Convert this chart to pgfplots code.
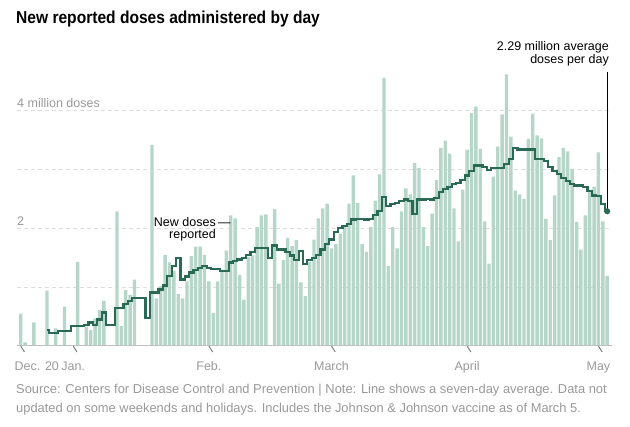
\documentclass[border=0pt]{standalone}
\usepackage{pgfplots}
\usepackage{pgfplotstable}
\pgfplotsset{compat=1.18}
\usepackage{fontspec}
\setmainfont{Liberation Sans}
\newfontfamily\titlefont[FakeStretch=0.9]{Liberation Sans}
\definecolor{barc}{HTML}{B5D6C8}
\definecolor{avgc}{HTML}{2A6A55}
\definecolor{labc}{HTML}{999999}
\definecolor{gridc}{HTML}{DDDDDD}

\pgfplotstableread{
day val
0 0.55
1 0.06
3 0.40
6 0.94
8 0.30
10 0.67
13 1.43
15 0.33
16 0.27
17 0.47
18 0.61
19 0.77
22 2.29
23 0.34
24 0.95
25 0.87
26 1.13
30 3.42
31 0.81
32 1.02
33 1.55
34 1.42
35 1.28
36 0.88
37 0.81
38 1.10
39 1.53
40 1.69
41 1.69
42 1.55
43 1.10
44 0.56
45 1.10
46 1.30
47 1.62
48 2.22
49 2.17
50 1.21
51 0.79
52 1.51
53 1.54
54 2.02
55 2.22
56 2.24
58 2.33
59 1.06
60 1.46
61 1.84
62 1.70
63 1.80
64 1.08
65 0.85
66 1.43
67 1.81
68 2.17
69 2.34
70 2.42
71 1.66
72 1.73
73 1.91
74 2.03
75 2.42
76 2.90
77 2.43
78 1.73
79 1.60
80 2.02
81 2.47
82 2.92
83 4.56
84 1.36
85 2.02
86 1.66
87 2.29
88 2.68
89 2.58
90 3.11
91 3.03
92 2.02
93 1.70
94 2.25
95 2.82
96 3.37
97 3.49
98 3.27
99 2.34
100 1.78
101 2.66
102 3.34
103 3.96
104 4.07
105 3.35
106 2.12
107 1.40
108 2.88
109 3.39
110 3.94
111 4.62
112 3.56
113 2.64
114 2.58
115 2.50
116 3.52
117 3.95
118 3.58
119 3.53
120 2.16
121 1.80
122 2.56
123 3.21
124 3.37
125 3.31
126 3.01
127 2.11
128 1.64
129 2.22
130 2.64
131 2.71
132 3.29
133 2.12
134 1.19
}\bars

\pgfplotstableread{
day val
6 0.27
7 0.22
8 0.22
9 0.26
10 0.26
11 0.26
12 0.34
13 0.34
14 0.34
15 0.36
16 0.40
17 0.36
18 0.45
19 0.57
20 0.36
21 0.36
22 0.64
23 0.64
24 0.71
25 0.77
26 0.81
27 0.81
28 0.81
29 0.48
30 0.91
31 0.91
32 0.96
33 1.03
34 1.19
35 1.36
36 1.49
37 1.13
38 1.18
39 1.25
40 1.29
41 1.32
42 1.36
43 1.33
44 1.31
45 1.31
46 1.28
47 1.28
48 1.42
49 1.45
50 1.47
51 1.50
52 1.55
53 1.60
54 1.66
55 1.66
56 1.66
57 1.49
58 1.71
59 1.64
60 1.64
61 1.60
62 1.54
63 1.46
64 1.62
65 1.40
66 1.46
67 1.50
68 1.55
69 1.64
70 1.73
71 1.81
72 1.94
73 2.01
74 2.04
75 2.08
76 2.15
77 2.16
78 2.16
79 2.15
80 2.16
81 2.23
82 2.29
83 2.53
84 2.38
85 2.42
86 2.43
87 2.47
88 2.49
89 2.46
90 2.24
91 2.49
92 2.49
93 2.50
94 2.49
95 2.51
96 2.62
97 2.67
98 2.71
99 2.76
100 2.77
101 2.82
102 2.90
103 2.98
104 3.07
105 3.07
106 3.04
107 2.99
108 3.02
109 3.03
110 3.03
111 3.10
112 3.18
113 3.36
114 3.34
115 3.34
116 3.34
117 3.34
118 3.18
119 3.18
120 3.14
121 3.04
122 2.98
123 2.92
124 2.86
125 2.81
126 2.76
127 2.73
128 2.73
129 2.70
130 2.63
131 2.56
132 2.55
133 2.42
134 2.29
}\avg

\begin{document}
\begin{tikzpicture}[x=1pt,y=1pt]
\useasboundingbox (0,0) rectangle (630,427);
\node[anchor=base west, inner sep=0pt, font={\titlefont\fontsize{17.3}{20}\selectfont\bfseries}] at (16,403) {New reported doses administered by day};
\begin{axis}[
  at={(17pt,81pt)}, anchor=south west,
  scale only axis, width=595pt, height=282.3pt,
  xmin=-0.85, xmax=135.1, ymin=0, ymax=4.8,
  axis line style={draw=none},
  xtick pos=bottom,
  ytick pos=left,
  xtick={0,12,43,71,102,132},
  xticklabels={\makebox[0pt][l]{\kern-6pt Dec. 20},Jan.,Feb.,March,April,May},
  major tick length=0pt,
  ytick={1,2,3,4},
  yticklabels={,2,,4 million doses},
  ymajorgrids,
  grid style={gridc, line width=0.8pt, dash pattern=on 4pt off 3pt},
  ticklabel style={font=\fontsize{12.5}{15}\selectfont, text=labc},
  xticklabel style={anchor=base, yshift=-25pt},
  yticklabel style={anchor=base west, inner sep=0pt, yshift=3pt},
  clip=false,
]
\addplot[ybar, bar width=3.4pt, bar shift=0pt, fill=barc, draw=none] table[x=day,y=val] {\bars};
\draw[black!25, line width=1pt] (axis cs:-0.85,0) -- (axis cs:135.1,0);
\draw[black!50, line width=1pt] (axis cs:0,0) -- ++(0,-6pt);
\draw[black!50, line width=1pt] (axis cs:12,0) -- ++(0,-6pt);
\draw[black!50, line width=1pt] (axis cs:43,0) -- ++(0,-6pt);
\draw[black!50, line width=1pt] (axis cs:71,0) -- ++(0,-6pt);
\draw[black!50, line width=1pt] (axis cs:102,0) -- ++(0,-6pt);
\draw[black!50, line width=1pt] (axis cs:132,0) -- ++(0,-6pt);
\addplot[avgc, line width=2.2pt, const plot mark mid, mark=none] table[x=day,y=val] {\avg};
\draw[black, line width=0.7pt] (axis cs:134,4.66) -- (axis cs:134,2.29);
\addplot[only marks, mark=*, mark size=2.8pt, avgc] coordinates {(134,2.29)};
\end{axis}
\begin{scope}[font=\fontsize{12.5}{15}\selectfont]
\node[anchor=base east, inner sep=0pt] at (609,376) {2.29 million average};
\node[anchor=base east, inner sep=0pt] at (609,363) {doses per day};
\node[anchor=base east, inner sep=0pt] at (216,200.5) {New doses};
\node[anchor=base west, inner sep=0pt] at (218,200.5) {—};
\node[anchor=base east, inner sep=0pt] at (216,188.5) {reported};
\end{scope}
\begin{scope}[font=\fontsize{12.9}{15}\selectfont]
\node[anchor=base west, inner sep=0pt, text=labc] at (16,33) {Source: Centers for Disease Control and Prevention | Note: Line shows a seven-day average. Data not};
\node[anchor=base west, inner sep=0pt, text=labc] at (16,14) {updated on some weekends and holidays. Includes the Johnson \& Johnson vaccine as of March 5.};
\end{scope}
\end{tikzpicture}
\end{document}
